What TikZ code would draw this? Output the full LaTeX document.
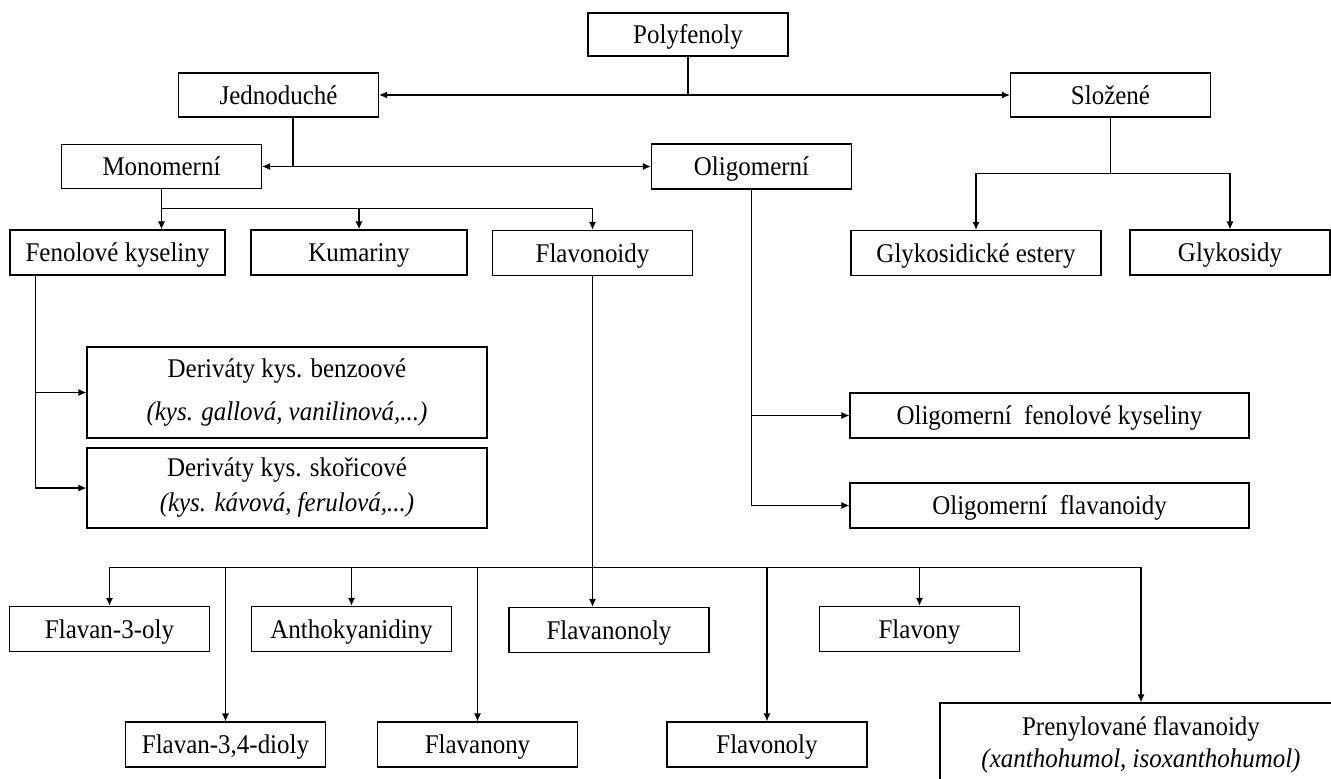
\documentclass[tikz,border=0pt]{standalone}
\usepackage{fontspec}
\setmainfont{Liberation Serif}[FakeStretch=0.925]
\usetikzlibrary{arrows.meta}

\tikzset{
  frame/.style={shape=rectangle,draw,line width=0.6pt,minimum width=100pt,minimum height=22.5pt,inner sep=2pt},
  box/.style={frame,text height=9.5pt,text depth=0.5pt},
  widebox/.style={frame,minimum width=200pt,align=center},
}

\begin{document}
\begin{tikzpicture}[x=0.5pt,y=-0.5pt,>={Latex[length=4pt,width=3.5pt]},line width=0.6pt,
  every node/.append style={font=\fontsize{13.5}{16}\selectfont}]
\useasboundingbox (0,0) rectangle (1331,778);

% horni urovne
\node (polyfenoly) [box,minimum height=21.5pt] at (688,34.5) {Polyfenoly};
\node (jednoduche) [box,minimum height=22pt] at (278.5,95) {Jednoduché};
\node (slozene) [box,minimum height=22pt] at (1110.5,95) {Složené};
\node (monomerni) [box,minimum height=22pt] at (161.5,166.5) {Monomerní};
\node (oligomerni) [box,minimum height=22.5pt] at (751.5,166.5) {Oligomerní};

% druhy
\node (fenolove) [box,minimum width=107.5pt] at (117.5,252.5) {Fenolové kyseliny};
\node (kumariny) [box,minimum width=108pt] at (359,252.5) {Kumariny};
\node (flavonoidy) [box] at (592.5,253) {Flavonoidy};
\node (glykest) [box,minimum width=125pt] at (976,253) {Glykosidické estery};
\node (glykosidy) [box] at (1230,252.5) {Glykosidy};

% derivaty
\node (benzoove) [widebox,minimum height=45.5pt] at (287,392.5) {Deriváty kys. benzoové\\[5.5pt]\textit{(kys. gallová, vanilinová,...)}};
\node (skoricove) [widebox,minimum height=40pt] at (287,488) {Deriváty kys. skořicové\\[1.5pt]\textit{(kys. kávová, ferulová,...)}};
\node (oligfen) [box,minimum width=199.5pt] at (1049.5,415.5) {Oligomerní\ \ fenolové kyseliny};
\node (oligflav) [box,minimum width=199.5pt] at (1049.5,505.5) {Oligomerní\ \ flavanoidy};

% flavonoidy
\node (flavan3) [box] at (109.5,629) {Flavan-3-oly};
\node (antho) [box] at (351.5,629) {Anthokyanidiny};
\node (flavanonoly) [box] at (609,630) {Flavanonoly};
\node (flavony) [box] at (919.5,629) {Flavony};
\node (flavan34) [box] at (225.5,744.5) {Flavan-3,4-dioly};
\node (flavanony) [box] at (477.5,744.5) {Flavanony};
\node (flavonoly) [box] at (767,744.5) {Flavonoly};
\node (prenyl) [widebox,minimum width=201pt,minimum height=42pt] at (1141,745) {Prenylované flavanoidy\\\textit{(xanthohumol, isoxanthohumol)}};

\draw[->] (polyfenoly.south) |- (jednoduche.east);
\draw[->] (polyfenoly.south) |- (slozene.west);
\draw[->] ([xshift=7.25pt]jednoduche.south) |- (monomerni.east);
\draw[->] ([xshift=7.25pt]jednoduche.south) |- (oligomerni.west);

\draw (monomerni.south) -- ++(0,19) coordinate (mfork);
\draw[->] (mfork) -- (mfork |- fenolove.north);
\draw[->] (mfork) -| (kumariny.north);
\draw[->] (mfork) -| (flavonoidy.north);

\draw (slozene.south) -- ++(0,56) coordinate (sfork);
\draw[->] (sfork) -| (glykest.north);
\draw[->] (sfork) -| (glykosidy.north);

\draw[->] (oligomerni.south) |- (oligfen.west);
\draw[->] (oligomerni.south) |- (oligflav.west);

\draw[->] ([xshift=13pt]fenolove.south west) |- (benzoove.west);
\draw[->] ([xshift=13pt]fenolove.south west) |- (skoricove.west);

\draw (flavonoidy.south) -- ++(0,291) coordinate (ffork);
\draw[->] (ffork) -- (ffork |- flavanonoly.north);
\foreach \n in {flavan3,flavan34,antho,flavanony,flavonoly,flavony,prenyl}
  \draw[->] (ffork) -| (\n.north);
\end{tikzpicture}
\end{document}
